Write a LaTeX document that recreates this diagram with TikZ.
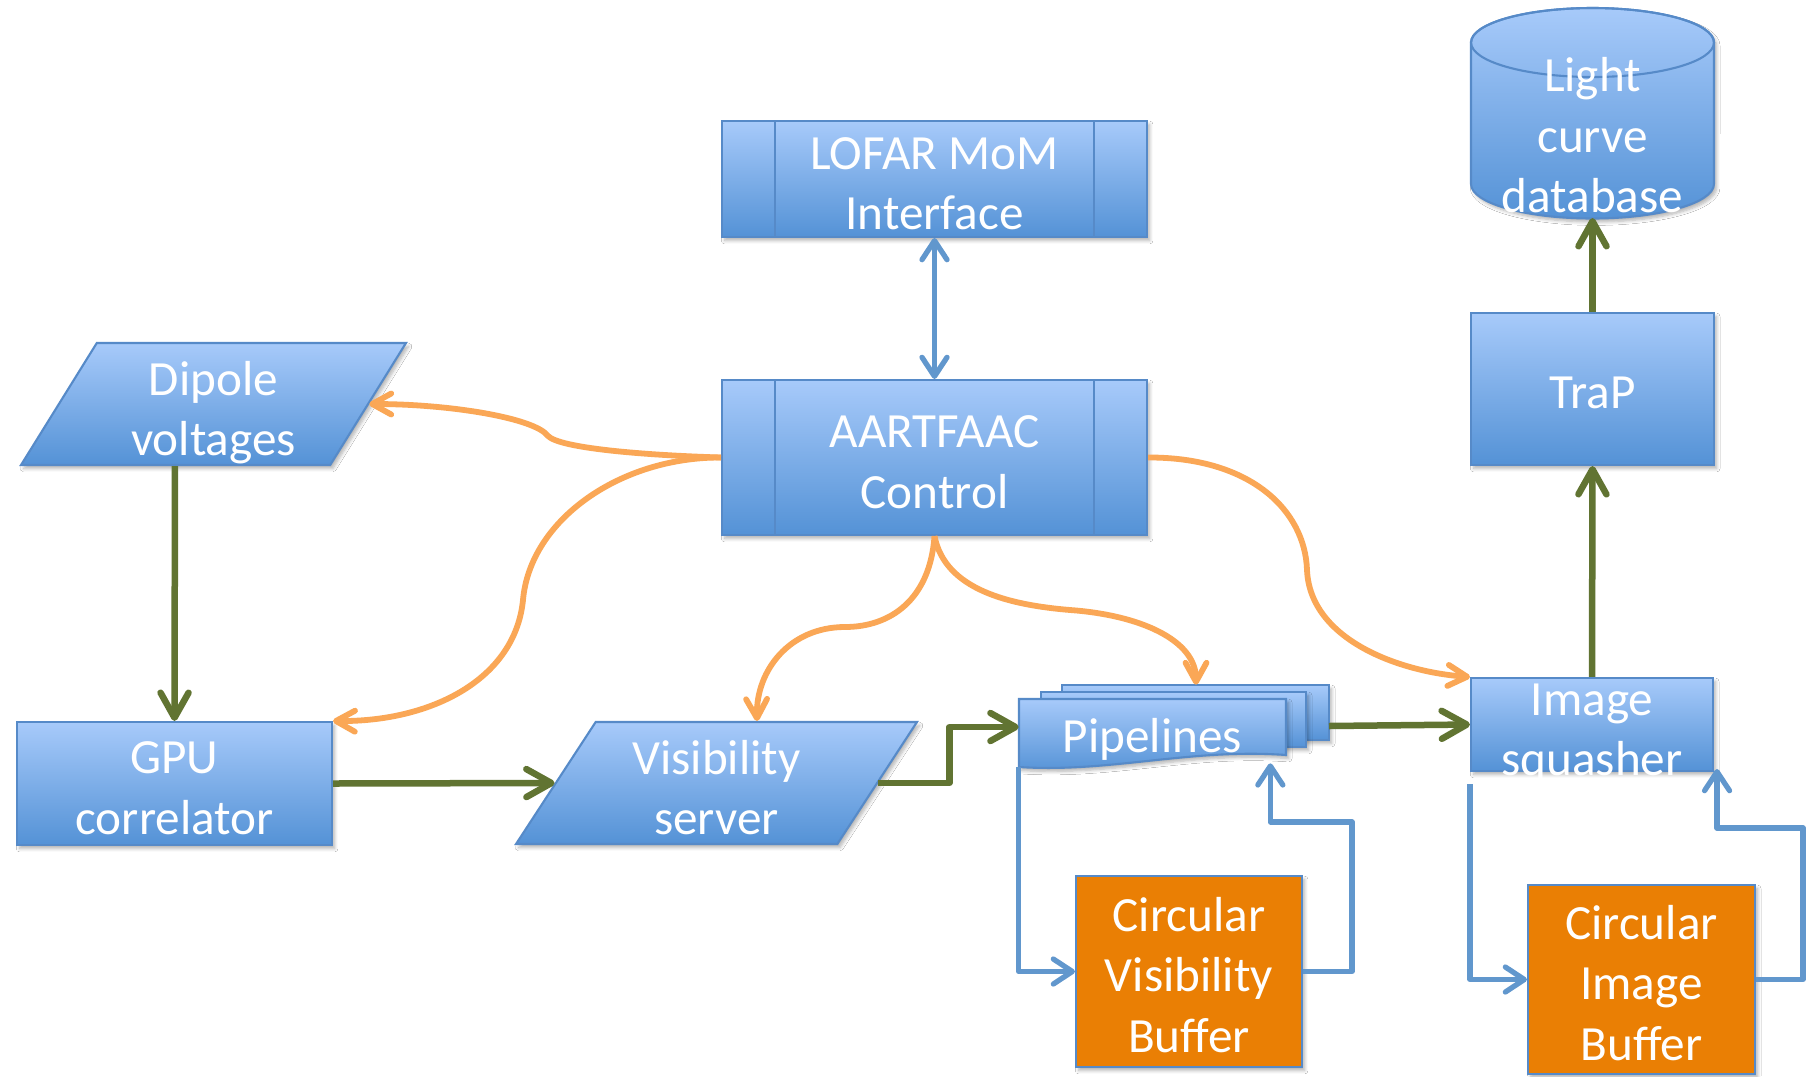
\documentclass[tikz,border=0pt]{standalone}
\usepackage{fontspec}
\setmainfont{Carlito}
\usetikzlibrary{arrows.meta,shapes.geometric,shadows.blur}
\definecolor{boxtop}{RGB}{167,202,250}
\definecolor{boxbot}{RGB}{84,146,214}
\definecolor{boxedge}{RGB}{86,138,200}
\definecolor{bufffill}{RGB}{234,127,4}
\definecolor{ctrlline}{RGB}{250,167,86}
\definecolor{flowline}{RGB}{97,116,50}
\definecolor{loopline}{RGB}{97,151,205}
\tikzset{
  boxlook/.style={draw=boxedge, line width=1.2pt, top color=boxtop, bottom color=boxbot,
    blur shadow={shadow xshift=1.5pt, shadow yshift=-2pt, shadow opacity=30, shadow blur steps=6}},
  boxtext/.style={text=white, align=center, font=\fontsize{28}{34.5}\selectfont, inner sep=0pt},
  oneline/.style={text height=22pt, text depth=0pt},
  twolines/.style={text height=58pt, text depth=0pt},
  threelines/.style={text height=92pt, text depth=0pt},
  box/.style={boxlook, boxtext, rectangle},
  procbox/.style={box, path picture={
    \draw[boxedge, line width=1.2pt]
      ([xshift=1.06cm]path picture bounding box.north west) -- ([xshift=1.06cm]path picture bounding box.south west)
      ([xshift=-1.06cm]path picture bounding box.north east) -- ([xshift=-1.06cm]path picture bounding box.south east);}},
  iobox/.style={boxlook, boxtext, trapezium, trapezium stretches body, text height=64pt, text depth=5pt},
  buffbox/.style={draw=boxedge, line width=1.2pt, fill=bufffill, boxtext, rectangle,
    blur shadow={shadow xshift=1.5pt, shadow yshift=-2pt, shadow opacity=30, shadow blur steps=6}},
  flowarrow/.style={draw=flowline, line width=3.7pt, line join=round, -{Straight Barb[round,length=0.5cm,width=0.56cm]}},
  ctrlarrow/.style={draw=ctrlline, line width=3.3pt, -{Straight Barb[round,length=0.38cm,width=0.42cm]}},
  looparrow/.style={draw=loopline, line width=3pt, line join=round, -{Straight Barb[round,length=0.38cm,width=0.5cm]}}
}
\begin{document}
\begin{tikzpicture}[x=0.02cm, y=-0.02cm]
\fill[white] (0,0) rectangle (1809,1076);
\useasboundingbox (0,0) rectangle (1809,1076);

\node[procbox, twolines, minimum width=8.5cm, minimum height=2.32cm] (mom) at (934.5,179) {LOFAR MoM\\Interface};
\node[procbox, twolines, minimum width=8.5cm, minimum height=3.1cm] (ctrl) at (934.5,457.5) {AARTFAAC\\Control};
\node[iobox, trapezium left angle=58, trapezium right angle=122, minimum width=7.7cm, minimum height=2.44cm] (dip) at (213.5,404) {Dipole\\voltages};
\node[box, twolines, minimum width=6.3cm, minimum height=2.46cm] (gpu) at (174.5,783.5) {GPU\\correlator};
\node[iobox, trapezium left angle=56.7, trapezium right angle=123.3, minimum width=8.02cm, minimum height=2.44cm] (vis) at (716.5,783) {Visibility\\server};

\path[boxlook] (1062,685) rectangle (1329,740);
\path[boxlook] (1041,692) rectangle (1306,747);
\path[boxlook] (1019,699) -- (1286,699) -- (1286,755) .. controls (1190,748) and (1110,773) .. (1019,767) -- cycle;
\node[boxtext, oneline, minimum width=5.34cm, minimum height=1.36cm] (pipe) at (1152.5,733) {Pipelines};
\coordinate (pipeout) at (1329,726);

\node[box, minimum width=4.84cm, minimum height=1.86cm] (sq) at (1592,724.5) {};
\node[boxtext, twolines] (sqtext) at (1592,725) {Image\\squasher};
\node[box, oneline, minimum width=4.86cm, minimum height=3.04cm] (trap) at (1592.5,389) {TraP};

\path[boxlook] (1471,42.5) -- (1471,184) arc[start angle=180, end angle=360, x radius=2.43cm, y radius=0.69cm]
  -- (1714,42.5) arc[start angle=0, end angle=180, x radius=2.43cm, y radius=0.69cm] -- cycle;
\draw[boxedge, line width=1.2pt] (1592.5,42.5) ellipse [x radius=2.43cm, y radius=0.69cm];
\node[boxtext, threelines] (db) at (1592.5,132) {Light\\curve\\database};
\coordinate (dbbot) at (1592.5,218);

\node[buffbox, threelines, minimum width=4.52cm, minimum height=3.82cm] (cvb) at (1189,971.5) {Circular\\Visibility\\Buffer};
\node[buffbox, threelines, minimum width=4.54cm, minimum height=3.78cm] (cib) at (1641.5,979.5) {Circular\\Image\\Buffer};

\draw[looparrow, {Straight Barb[round,length=0.38cm,width=0.5cm]}-{Straight Barb[round,length=0.38cm,width=0.5cm]}] (mom.south) -- (ctrl.north);

\draw[ctrlarrow] (ctrl.west) .. controls (640,455) and (560,448) .. (548,436) .. controls (535,418) and (450,404) .. (dip.right side);
\draw[ctrlarrow] (ctrl.west) .. controls (620,457) and (530,520) .. (523,600) .. controls (515,680) and (430,722) .. (gpu.north east);
\draw[ctrlarrow] (ctrl.south) .. controls (930,600) and (890,627) .. (845,627) .. controls (790,627) and (756,670) .. (vis.top side);
\draw[ctrlarrow] (ctrl.south) .. controls (945,590) and (1010,605) .. (1070,610) .. controls (1140,615) and (1196,640) .. ([xshift=0.87cm,yshift=0.28cm]pipe.north);
\draw[ctrlarrow] (ctrl.east) .. controls (1250,457) and (1305,510) .. (1307,570) .. controls (1310,640) and (1400,672) .. (sq.north west);

\draw[flowarrow] (dip.bottom side) -- (gpu.north);
\draw[flowarrow] (gpu.east) -- (vis.left side);
\draw[flowarrow] (vis.right side) -- ++(1.42cm,0) |- ([yshift=0.12cm]pipe.west);
\draw[flowarrow] (pipeout) -- (sq.west);
\draw[flowarrow] (sq.north) -- (trap.south);
\draw[flowarrow] (trap.north) -- (dbbot);

\draw[looparrow] (pipe.south west) |- (cvb.west);
\draw[looparrow] (cvb.east) -| (1352,822) -| ([xshift=-0.32cm,yshift=0.08cm]pipe.south east);
\draw[looparrow] ([yshift=-0.24cm]sq.south west) |- (cib.west);
\draw[looparrow] (cib.east) -| (1803,828) -| ([xshift=0.06cm,yshift=0.06cm]sq.south east);
\end{tikzpicture}
\end{document}
